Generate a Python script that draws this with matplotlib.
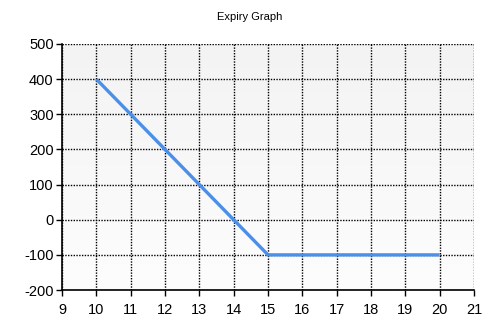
import matplotlib
matplotlib.use("Agg")
import matplotlib.pyplot as plt
import numpy as np
from matplotlib.colors import LinearSegmentedColormap

plt.rcParams['font.family'] = ['Liberation Sans', 'DejaVu Sans']
plt.rcParams['axes.unicode_minus'] = False

x_vals = [10, 15, 20]
y_vals = [400, -100, -100]
x_ticks = list(range(9, 22))
y_ticks = list(range(-200, 501, 100))
title = "Expiry Graph"

fig = plt.figure(figsize=(5, 3.33), dpi=100)
ax = fig.add_axes([0.124, 0.129, 0.824, 0.739])
ax.set_xlim(9, 21)
ax.set_ylim(-200, 500)

grad = np.linspace(0, 1, 256).reshape(-1, 1)
cmap = LinearSegmentedColormap.from_list("g", ["#f3f3f3", "#fdfdfd"])
ax.imshow(grad, extent=[9, 21, -200, 500], aspect='auto', cmap=cmap, origin='upper', zorder=0)

ax.set_xticks(x_ticks)
ax.set_yticks(y_ticks)
ax.grid(True, color='black', linestyle=(0, (1, 1)), linewidth=1.0)
ax.set_axisbelow(False)
for s in ['top', 'right']:
    ax.spines[s].set_visible(False)
for s in ['left', 'bottom']:
    ax.spines[s].set_linewidth(1.2)
ax.tick_params(direction='out', length=4, width=1, labelsize=10.5)
ax.tick_params(axis='x', pad=5)
ax.tick_params(axis='y', pad=2)

ax.plot(x_vals, y_vals, color='#4a8fea', linewidth=2.4, zorder=3, solid_capstyle='butt')
fig.text(0.5, 0.948, title, ha='center', va='center', fontsize=8)

fig.savefig("out.png", dpi=100)
